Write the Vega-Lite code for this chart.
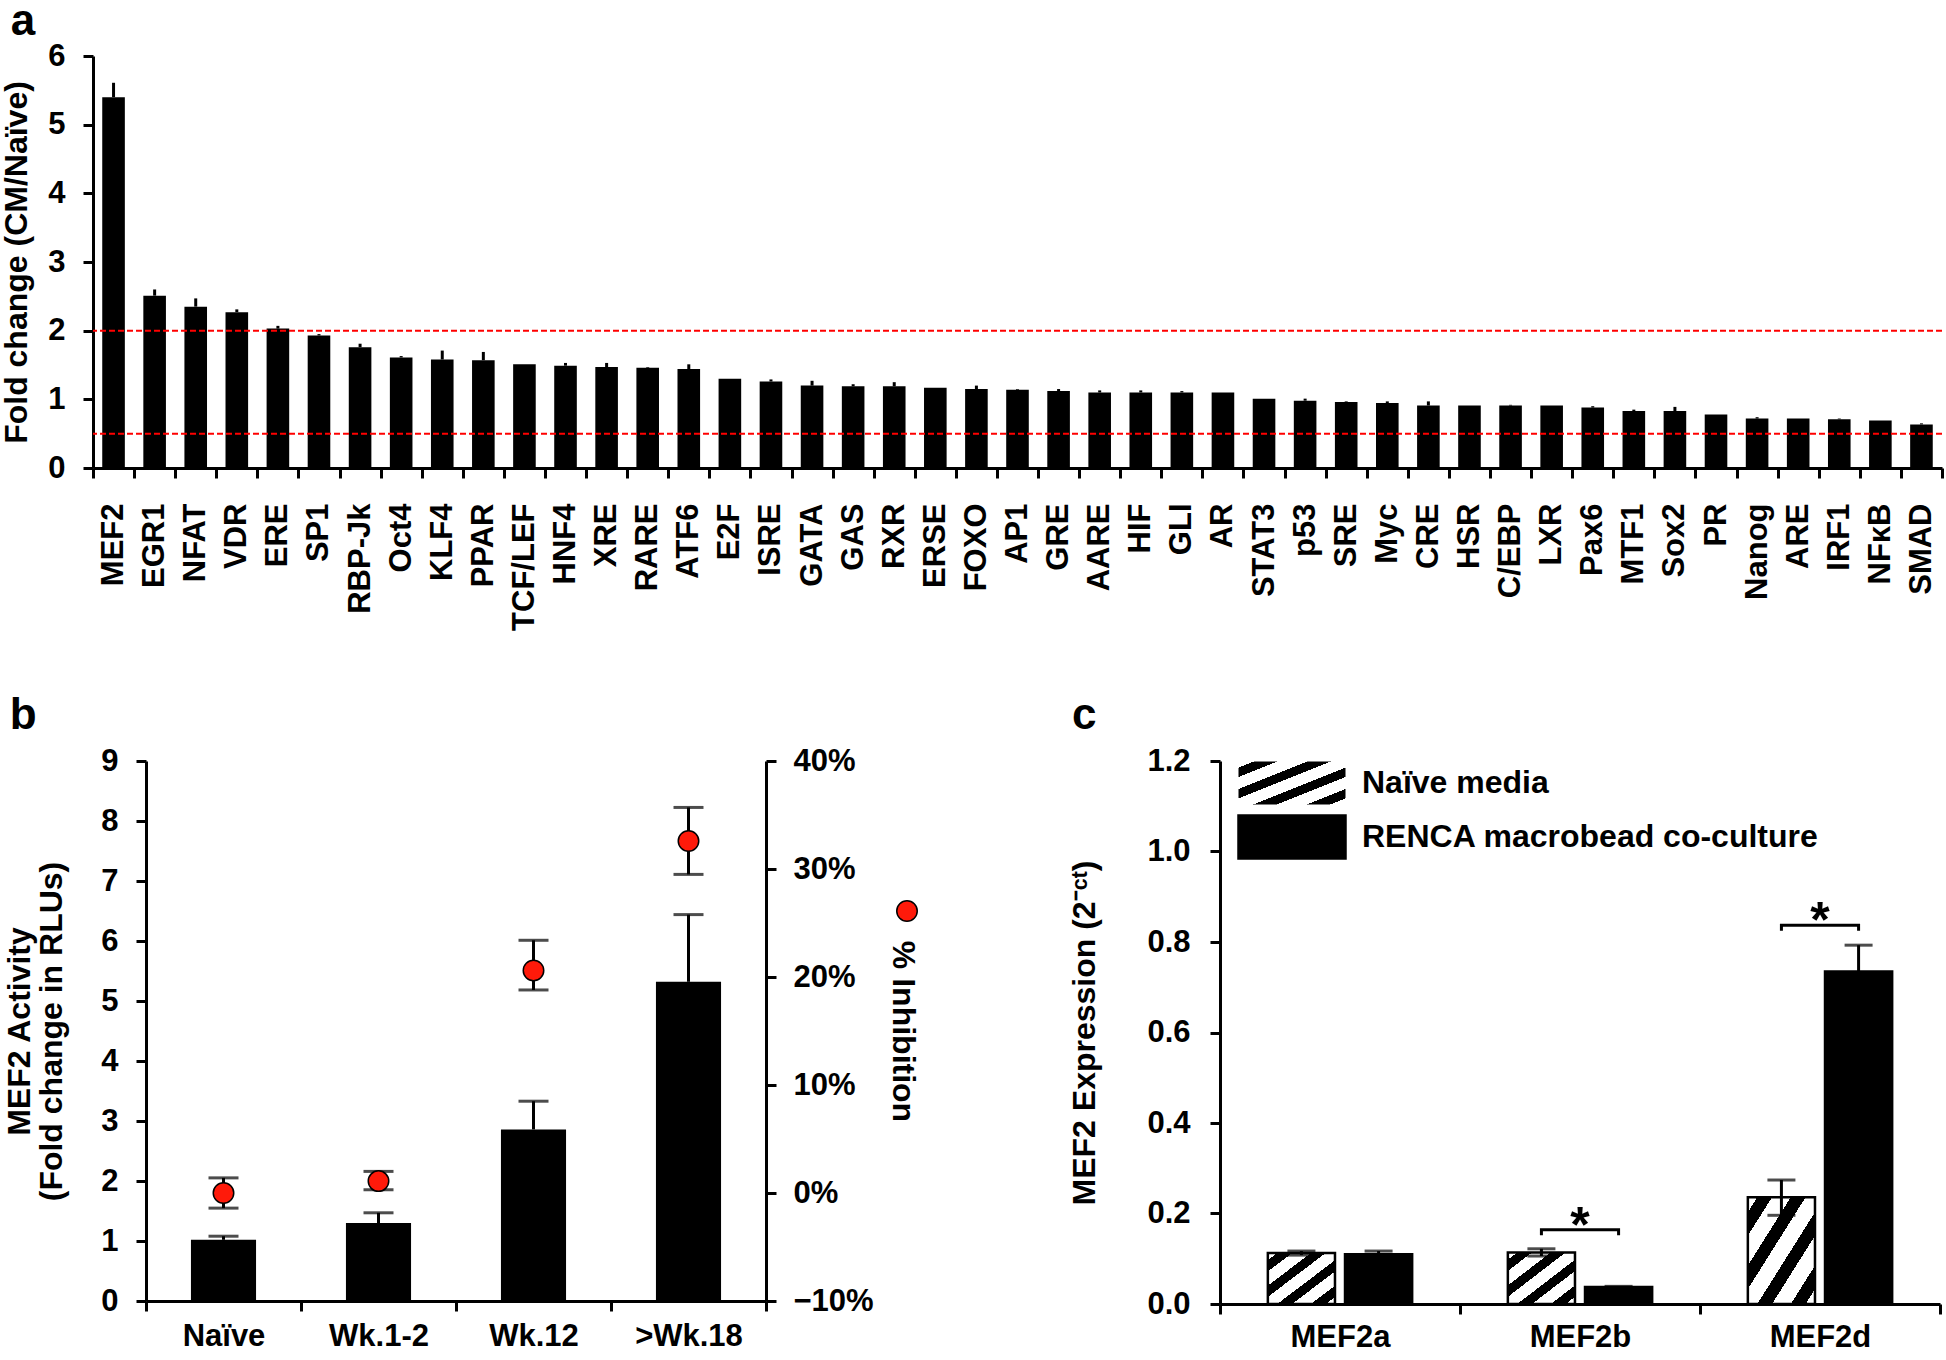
{
  "$schema": "https://vega.github.io/schema/vega-lite/v6.json",
  "background": "white",
  "padding": {"left": 0, "top": 0, "right": 4, "bottom": 0},
  "config": {
    "font": "Liberation Sans",
    "view": {"stroke": null},
    "axis": {
      "labelFont": "Liberation Sans", "labelFontWeight": "bold", "labelFontSize": 31, "labelColor": "black",
      "titleFont": "Liberation Sans", "titleFontWeight": "bold", "titleFontSize": 32, "titleColor": "black",
      "domainColor": "black", "domainWidth": 3, "tickColor": "black", "tickWidth": 3, "tickSize": 10, "grid": false
    },
    "legend": {"labelFont": "Liberation Sans", "labelFontWeight": "bold", "labelFontSize": 32, "labelColor": "black", "padding": 0, "offset": 0, "labelLimit": 1000},
    "title": {"font": "Liberation Sans", "fontWeight": "bold", "fontSize": 44, "color": "black", "anchor": "start", "frame": "bounds"}
  },
  "columns": 1,
  "align": "none",
  "spacing": 63,
  "concat": [
    {
      "title": {"text": "a", "offset": -4, "dx": 10},
      "width": 1849,
      "height": 412,
      "data": {"values": [
        {"tf": "MEF2", "fc": 5.40, "hi": 5.61},
        {"tf": "EGR1", "fc": 2.51, "hi": 2.60},
        {"tf": "NFAT", "fc": 2.35, "hi": 2.47},
        {"tf": "VDR", "fc": 2.27, "hi": 2.31},
        {"tf": "ERE", "fc": 2.03, "hi": 2.07},
        {"tf": "SP1", "fc": 1.93, "hi": 1.95},
        {"tf": "RBP-Jk", "fc": 1.76, "hi": 1.81},
        {"tf": "Oct4", "fc": 1.61, "hi": 1.63},
        {"tf": "KLF4", "fc": 1.58, "hi": 1.71},
        {"tf": "PPAR", "fc": 1.57, "hi": 1.69},
        {"tf": "TCF/LEF", "fc": 1.51, "hi": 1.51},
        {"tf": "HNF4", "fc": 1.49, "hi": 1.53},
        {"tf": "XRE", "fc": 1.47, "hi": 1.53},
        {"tf": "RARE", "fc": 1.46, "hi": 1.47},
        {"tf": "ATF6", "fc": 1.44, "hi": 1.51},
        {"tf": "E2F", "fc": 1.30, "hi": 1.30},
        {"tf": "ISRE", "fc": 1.26, "hi": 1.29},
        {"tf": "GATA", "fc": 1.20, "hi": 1.27},
        {"tf": "GAS", "fc": 1.19, "hi": 1.22},
        {"tf": "RXR", "fc": 1.19, "hi": 1.25},
        {"tf": "ERSE", "fc": 1.17, "hi": 1.17},
        {"tf": "FOXO", "fc": 1.15, "hi": 1.20},
        {"tf": "AP1", "fc": 1.14, "hi": 1.15},
        {"tf": "GRE", "fc": 1.12, "hi": 1.15},
        {"tf": "AARE", "fc": 1.10, "hi": 1.13},
        {"tf": "HIF", "fc": 1.10, "hi": 1.13},
        {"tf": "GLI", "fc": 1.10, "hi": 1.12},
        {"tf": "AR", "fc": 1.10, "hi": 1.10},
        {"tf": "STAT3", "fc": 1.01, "hi": 1.01},
        {"tf": "p53", "fc": 0.98, "hi": 1.01},
        {"tf": "SRE", "fc": 0.96, "hi": 0.97},
        {"tf": "Myc", "fc": 0.945, "hi": 0.97},
        {"tf": "CRE", "fc": 0.91, "hi": 0.97},
        {"tf": "HSR", "fc": 0.91, "hi": 0.91},
        {"tf": "C/EBP", "fc": 0.91, "hi": 0.92},
        {"tf": "LXR", "fc": 0.91, "hi": 0.91},
        {"tf": "Pax6", "fc": 0.88, "hi": 0.90},
        {"tf": "MTF1", "fc": 0.83, "hi": 0.85},
        {"tf": "Sox2", "fc": 0.83, "hi": 0.89},
        {"tf": "PR", "fc": 0.78, "hi": 0.78},
        {"tf": "Nanog", "fc": 0.72, "hi": 0.74},
        {"tf": "ARE", "fc": 0.72, "hi": 0.72},
        {"tf": "IRF1", "fc": 0.71, "hi": 0.72},
        {"tf": "NFκB", "fc": 0.69, "hi": 0.69},
        {"tf": "SMAD", "fc": 0.635, "hi": 0.65}
      ]},
      "layer": [
        {
          "mark": {"type": "bar", "color": "black", "width": {"band": 0.55}},
          "encoding": {
            "x": {"field": "tf", "type": "nominal", "sort": null,
                  "scale": {"paddingInner": 0, "paddingOuter": 0},
                  "axis": {"title": null, "labelAngle": -90, "tickBand": "extent", "labelPadding": 25}},
            "y": {"field": "fc", "type": "quantitative", "scale": {"domain": [0, 6]},
                  "axis": {"title": "Fold change (CM/Naïve)", "values": [0, 1, 2, 3, 4, 5, 6], "format": "d", "labelPadding": 18, "titlePadding": 14}}
          }
        },
        {
          "mark": {"type": "rule", "color": "black", "strokeWidth": 3},
          "encoding": {
            "x": {"field": "tf", "type": "nominal", "sort": null},
            "y": {"field": "fc", "type": "quantitative"},
            "y2": {"field": "hi"}
          }
        },
        {
          "data": {"values": [{"ref": 2}, {"ref": 0.5}]},
          "mark": {"type": "rule", "color": "#ff0000", "strokeWidth": 2, "strokeDash": [6, 3]},
          "encoding": {"y": {"field": "ref", "type": "quantitative"}}
        }
      ]
    },
    {
      "spacing": -94,
      "hconcat": [
        {
          "width": 1,
          "height": 1,
          "data": {"values": [{}]},
          "mark": {"type": "point", "opacity": 0},
          "encoding": {}
        },
        {
          "spacing": 149,
          "hconcat": [
            {
              "title": {"text": "b", "offset": 7, "dx": 6},
              "width": 620,
              "height": 540,
              "data": {"values": [
                {"g": "Naïve", "v": 1.02, "vhi": 1.08, "inh": 0.0, "ilo": -0.014, "ihi": 0.014},
                {"g": "Wk.1-2", "v": 1.30, "vhi": 1.47, "inh": 0.011, "ilo": 0.003, "ihi": 0.02},
                {"g": "Wk.12", "v": 2.86, "vhi": 3.33, "inh": 0.206, "ilo": 0.188, "ihi": 0.234},
                {"g": ">Wk.18", "v": 5.32, "vhi": 6.44, "inh": 0.326, "ilo": 0.295, "ihi": 0.357}
              ]},
              "layer": [
                {
                  "layer": [
                    {
                      "mark": {"type": "bar", "color": "black", "width": {"band": 0.42}},
                      "encoding": {
                        "x": {"field": "g", "type": "nominal", "sort": null,
                              "scale": {"paddingInner": 0, "paddingOuter": 0},
                              "axis": {"title": null, "labelAngle": 0, "tickBand": "extent", "labelPadding": 10}},
                        "y": {"field": "v", "type": "quantitative", "scale": {"domain": [0, 9]},
                              "axis": {"orient": "left", "title": ["MEF2 Activity", "(Fold change in RLUs)"], "titleLineHeight": 32,
                                       "values": [0, 1, 2, 3, 4, 5, 6, 7, 8, 9], "format": "d", "labelPadding": 18, "titlePadding": 32}}
                      }
                    },
                    {
                      "mark": {"type": "rule", "color": "black", "strokeWidth": 3},
                      "encoding": {
                        "x": {"field": "g", "type": "nominal", "sort": null},
                        "y": {"field": "v", "type": "quantitative"},
                        "y2": {"field": "vhi"}
                      }
                    },
                    {
                      "mark": {"type": "tick", "color": "black", "thickness": 3, "size": 30},
                      "encoding": {
                        "x": {"field": "g", "type": "nominal", "sort": null},
                        "y": {"field": "vhi", "type": "quantitative"}
                      }
                    }
                  ]
                },
                {
                  "layer": [
                    {
                      "mark": {"type": "rule", "color": "black", "strokeWidth": 3},
                      "encoding": {
                        "x": {"field": "g", "type": "nominal", "sort": null},
                        "y": {"field": "ilo", "type": "quantitative", "scale": {"domain": [-0.1, 0.4]},
                              "axis": {"orient": "right", "title": "% Inhibition", "format": ".0%",
                                       "values": [-0.1, 0, 0.1, 0.2, 0.3, 0.4], "labelPadding": 17, "titlePadding": 12}},
                        "y2": {"field": "ihi"}
                      }
                    },
                    {
                      "mark": {"type": "tick", "color": "black", "thickness": 3, "size": 30},
                      "encoding": {
                        "x": {"field": "g", "type": "nominal", "sort": null},
                        "y": {"field": "ilo", "type": "quantitative"}
                      }
                    },
                    {
                      "mark": {"type": "tick", "color": "black", "thickness": 3, "size": 30},
                      "encoding": {
                        "x": {"field": "g", "type": "nominal", "sort": null},
                        "y": {"field": "ihi", "type": "quantitative"}
                      }
                    },
                    {
                      "mark": {"type": "point", "shape": "circle", "filled": true, "size": 420, "stroke": "black", "strokeWidth": 1.5, "opacity": 1},
                      "encoding": {
                        "x": {"field": "g", "type": "nominal", "sort": null},
                        "y": {"field": "inh", "type": "quantitative"},
                        "color": {"datum": "% Inhibition", "type": "nominal", "scale": {"range": ["#ff1a0a"]},
                                  "legend": {"orient": "none", "legendX": 803, "legendY": 844, "title": null, "labelExpr": "''",
                                             "labelFontSize": 1, "symbolSize": 420, "symbolStrokeColor": "black", "symbolStrokeWidth": 1.5, "symbolType": "circle", "symbolOpacity": 1}}
                      }
                    }
                  ]
                }
              ],
              "resolve": {"scale": {"y": "independent"}}
            },
            {
              "title": {"text": "c", "offset": 7, "dx": 3},
              "width": 720,
              "height": 543,
              "layer": [
                {
                  "data": {"values": [
                    {"gene": "MEF2a", "grp": "Naïve media", "v": 0.1125, "lo": 0.108, "hi": 0.117},
                    {"gene": "MEF2a", "grp": "RENCA macrobead co-culture", "v": 0.110, "lo": 0.103, "hi": 0.117},
                    {"gene": "MEF2b", "grp": "Naïve media", "v": 0.114, "lo": 0.106, "hi": 0.122},
                    {"gene": "MEF2b", "grp": "RENCA macrobead co-culture", "v": 0.0375, "lo": 0.036, "hi": 0.039},
                    {"gene": "MEF2d", "grp": "Naïve media", "v": 0.236, "lo": 0.196, "hi": 0.274},
                    {"gene": "MEF2d", "grp": "RENCA macrobead co-culture", "v": 0.735, "lo": 0.677, "hi": 0.793}
                  ]},
                  "layer": [
                    {
                      "transform": [{"filter": "datum.grp === 'Naïve media'"}],
                      "mark": {"type": "bar", "stroke": "black", "strokeWidth": 2.5,
                               "fill": {"gradient": "linear", "x1": 0, "y1": 0, "x2": 1, "y2": 1, "stops": [
                                  {"offset": 0, "color": "white"}, {"offset": 0.07, "color": "white"},
                                  {"offset": 0.07, "color": "black"}, {"offset": 0.18, "color": "black"},
                                  {"offset": 0.18, "color": "white"}, {"offset": 0.32, "color": "white"},
                                  {"offset": 0.32, "color": "black"}, {"offset": 0.43, "color": "black"},
                                  {"offset": 0.43, "color": "white"}, {"offset": 0.57, "color": "white"},
                                  {"offset": 0.57, "color": "black"}, {"offset": 0.68, "color": "black"},
                                  {"offset": 0.68, "color": "white"}, {"offset": 0.82, "color": "white"},
                                  {"offset": 0.82, "color": "black"}, {"offset": 0.93, "color": "black"},
                                  {"offset": 0.93, "color": "white"}, {"offset": 1, "color": "white"}
                               ]}},
                      "encoding": {
                        "x": {"field": "gene", "type": "nominal", "sort": null,
                              "scale": {"paddingInner": 0, "paddingOuter": 0},
                              "axis": {"title": null, "labelAngle": 0, "tickBand": "extent", "labelPadding": 8}},
                        "xOffset": {"field": "grp", "type": "nominal", "sort": null,
                                    "scale": {"domain": ["Naïve media", "RENCA macrobead co-culture"], "paddingInner": 0.13, "paddingOuter": 0.62}},
                        "y": {"field": "v", "type": "quantitative", "scale": {"domain": [0, 1.2]},
                              "axis": {"title": "MEF2 Expression (2⁻ᶜᵗ)", "values": [0, 0.2, 0.4, 0.6, 0.8, 1.0, 1.2], "format": ".1f", "labelPadding": 20, "titlePadding": 45}},
                        "opacity": {"datum": "Naïve media", "type": "nominal", "scale": {"range": [1]},
                                    "legend": {"orient": "none", "legendX": 1144, "legendY": 672, "title": null,
                                               "symbolType": "M-1,-0.4L1,-0.4L1,0.4L-1,0.4Z", "symbolSize": 11449,
                                               "symbolStrokeColor": "black", "symbolStrokeWidth": 2.5, "labelOffset": 15,
                                               "encode": {"symbols": {"update": {"stroke": {"value": "black"}, "strokeWidth": {"value": 2.5}}}}}}
                      }
                    },
                    {
                      "transform": [{"filter": "datum.grp !== 'Naïve media'"}],
                      "mark": {"type": "bar", "stroke": "black", "strokeWidth": 2.5},
                      "encoding": {
                        "x": {"field": "gene", "type": "nominal", "sort": null},
                        "xOffset": {"field": "grp", "type": "nominal", "sort": null},
                        "y": {"field": "v", "type": "quantitative"},
                        "fill": {"datum": "RENCA macrobead co-culture", "type": "nominal", "scale": {"range": ["black"]},
                                 "legend": {"orient": "none", "legendX": 1144, "legendY": 726, "title": null,
                                            "symbolType": "M-1,-0.4L1,-0.4L1,0.4L-1,0.4Z", "symbolSize": 11449,
                                            "symbolStrokeColor": "black", "symbolStrokeWidth": 2.5, "labelOffset": 15}}
                      }
                    },
                    {
                      "mark": {"type": "rule", "color": "black", "strokeWidth": 3},
                      "encoding": {
                        "x": {"field": "gene", "type": "nominal", "sort": null},
                        "xOffset": {"field": "grp", "type": "nominal", "sort": null},
                        "y": {"field": "lo", "type": "quantitative"},
                        "y2": {"field": "hi"}
                      }
                    },
                    {
                      "mark": {"type": "tick", "color": "black", "thickness": 3, "size": 28},
                      "encoding": {
                        "x": {"field": "gene", "type": "nominal", "sort": null},
                        "xOffset": {"field": "grp", "type": "nominal", "sort": null},
                        "y": {"field": "hi", "type": "quantitative"}
                      }
                    },
                    {
                      "mark": {"type": "tick", "color": "black", "thickness": 3, "size": 28},
                      "encoding": {
                        "x": {"field": "gene", "type": "nominal", "sort": null},
                        "xOffset": {"field": "grp", "type": "nominal", "sort": null},
                        "y": {"field": "lo", "type": "quantitative"}
                      }
                    }
                  ]
                },
                {
                  "data": {"values": [
                    {"gene": "MEF2b", "grp": "Naïve media", "y": 0.152, "id": "b", "o": 1},
                    {"gene": "MEF2b", "grp": "Naïve media", "y": 0.164, "id": "b", "o": 2},
                    {"gene": "MEF2b", "grp": "RENCA macrobead co-culture", "y": 0.164, "id": "b", "o": 3},
                    {"gene": "MEF2b", "grp": "RENCA macrobead co-culture", "y": 0.152, "id": "b", "o": 4},
                    {"gene": "MEF2d", "grp": "Naïve media", "y": 0.825, "id": "d", "o": 1},
                    {"gene": "MEF2d", "grp": "Naïve media", "y": 0.837, "id": "d", "o": 2},
                    {"gene": "MEF2d", "grp": "RENCA macrobead co-culture", "y": 0.837, "id": "d", "o": 3},
                    {"gene": "MEF2d", "grp": "RENCA macrobead co-culture", "y": 0.825, "id": "d", "o": 4}
                  ]},
                  "mark": {"type": "line", "color": "black", "strokeWidth": 3},
                  "encoding": {
                    "x": {"field": "gene", "type": "nominal", "sort": null},
                    "xOffset": {"field": "grp", "type": "nominal", "sort": null},
                    "y": {"field": "y", "type": "quantitative"},
                    "detail": {"field": "id"},
                    "order": {"field": "o"}
                  }
                },
                {
                  "data": {"values": [
                    {"gene": "MEF2b", "star": 0.2, "lab": "*"},
                    {"gene": "MEF2d", "star": 0.872, "lab": "*"}
                  ]},
                  "mark": {"type": "text", "font": "Liberation Sans", "fontWeight": "bold", "fontSize": 50, "baseline": "alphabetic", "dy": 28, "color": "black"},
                  "encoding": {
                    "x": {"field": "gene", "type": "nominal", "sort": null},
                    "y": {"field": "star", "type": "quantitative"},
                    "text": {"field": "lab"}
                  }
                }
              ]
            }
          ]
        }
      ]
    }
  ]
}
